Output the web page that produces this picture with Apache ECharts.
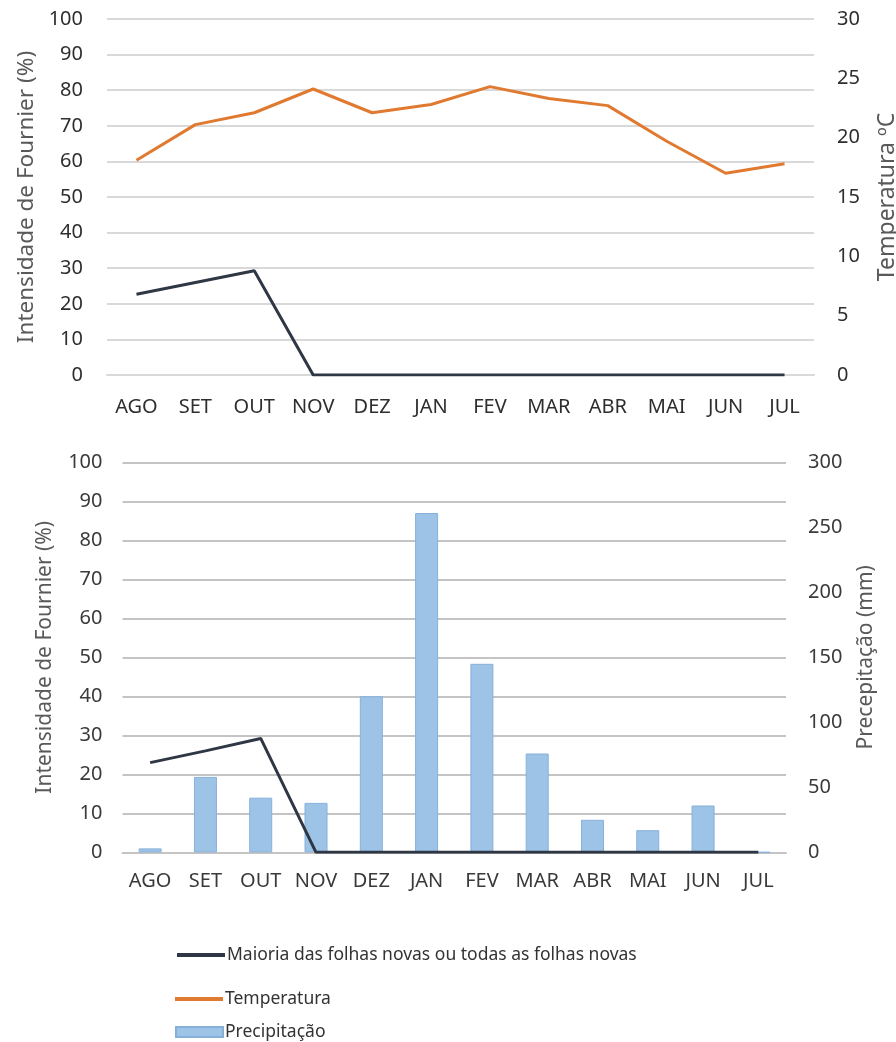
<!DOCTYPE html>
<html><head><meta charset="utf-8">
<script src="https://cdn.jsdelivr.net/npm/echarts@6/dist/echarts.min.js"></script>
<style>html,body{margin:0;padding:0;background:#fff}#c{width:896px;height:1042px}</style>
</head><body><div id="c"></div>
<script>
const months = ['AGO','SET','OUT','NOV','DEZ','JAN','FEV','MAR','ABR','MAI','JUN','JUL'];
const folhasTop = [22.7, 26, 29.3, 0, 0, 0, 0, 0, 0, 0, 0, 0];
const temperatura = [18.1, 21.1, 22.1, 24.1, 22.1, 22.8, 24.3, 23.3, 22.7, 19.7, 17.0, 17.8];
const folhasBottom = [23.0, 26, 29.2, 0, 0, 0, 0, 0, 0, 0, 0, 0];
const precipitacao = [3, 58, 42, 38, 120, 261, 145, 76, 25, 17, 36, 0];
const leftTicks = [0, 100, 10];
const tempTicks = [0, 30, 5];
const precTicks = [0, 300, 50];

const NAME_F = 'Maioria das folhas novas ou todas as folhas novas';
const NAME_T = 'Temperatura';
const NAME_P = 'Precipitação';
const FONT = 'Noto Sans';
const labTop = {fontFamily: FONT, fontSize: 20, color: '#2e2e2e'};
const labBot = {fontFamily: FONT, fontSize: 20, color: '#3a3a3a'};
const legText = {fontFamily: FONT, fontSize: 17.5, color: '#333', padding: [0, 0, 0, -3]};

const chart = echarts.init(document.getElementById('c'));
chart.setOption({
  animation: false,
  backgroundColor: '#fff',
  grid: [
    {left: 107, right: 82, top: 19, height: 356, outerBoundsMode: 'none', containLabel: false},
    {left: 122.5, right: 110, top: 462.3, height: 390, outerBoundsMode: 'none', containLabel: false}
  ],
  xAxis: [
    {type: 'category', gridIndex: 0, data: months, boundaryGap: true,
     axisLine: {show: true, lineStyle: {color: '#d9d9d9', width: 2}}, axisTick: {show: false},
     axisLabel: Object.assign({margin: 22, interval: 0, hideOverlap: false}, labTop)},
    {type: 'category', gridIndex: 1, data: months, boundaryGap: true,
     axisLine: {show: true, lineStyle: {color: '#c4c4c4', width: 2}}, axisTick: {show: false},
     axisLabel: Object.assign({margin: 19, interval: 0, hideOverlap: false}, labBot)}
  ],
  yAxis: [
    {type: 'value', gridIndex: 0, min: leftTicks[0], max: leftTicks[1], interval: leftTicks[2], position: 'left',
     name: 'Intensidade de Fournier (%)', nameLocation: 'middle', nameGap: 65,
     nameTextStyle: {fontFamily: FONT, fontSize: 22.5, color: '#595959'},
     axisLine: {show: false}, axisTick: {show: false},
     splitLine: {lineStyle: {color: '#d9d9d9', width: 2}},
     axisLabel: Object.assign({margin: 24}, labTop)},
    {type: 'value', gridIndex: 0, min: tempTicks[0], max: tempTicks[1], interval: tempTicks[2], position: 'right',
     name: 'Temperatura ºC', nameLocation: 'middle', nameGap: 62,
     nameTextStyle: {fontFamily: FONT, fontSize: 23, color: '#595959'},
     axisLine: {show: false}, axisTick: {show: false}, splitLine: {show: false},
     axisLabel: Object.assign({margin: 23}, labTop)},
    {type: 'value', gridIndex: 1, min: leftTicks[0], max: leftTicks[1], interval: leftTicks[2], position: 'left',
     name: 'Intensidade de Fournier (%)', nameLocation: 'middle', nameGap: 67,
     nameTextStyle: {fontFamily: FONT, fontSize: 21, color: '#595959'},
     axisLine: {show: false}, axisTick: {show: false},
     splitLine: {lineStyle: {color: '#c4c4c4', width: 2}},
     axisLabel: Object.assign({margin: 20}, labBot)},
    {type: 'value', gridIndex: 1, min: precTicks[0], max: precTicks[1], interval: precTicks[2], position: 'right',
     name: 'Precepitação (mm)', nameLocation: 'middle', nameGap: 70,
     nameTextStyle: {fontFamily: FONT, fontSize: 21, color: '#595959'},
     axisLine: {show: false}, axisTick: {show: false}, splitLine: {show: false},
     axisLabel: Object.assign({margin: 22}, labBot)}
  ],
  legend: [
    {left: 177, top: 946, padding: 0, itemWidth: 48, itemHeight: 4, itemGap: 0,
     data: [{name: NAME_F, icon: 'rect'}], textStyle: legText},
    {left: 175, top: 990, padding: 0, itemWidth: 48, itemHeight: 4, itemGap: 0,
     data: [{name: NAME_T, icon: 'rect'}], textStyle: legText},
    {left: 175, top: 1023, padding: 0, itemWidth: 47, itemHeight: 10, itemGap: 0,
     data: [{name: NAME_P, icon: 'rect'}], textStyle: legText}
  ],
  series: [
    {name: NAME_F, type: 'line', xAxisIndex: 0, yAxisIndex: 0, data: folhasTop,
     symbol: 'none', lineStyle: {color: '#2f3745', width: 3}, itemStyle: {color: '#2f3745'}, z: 5},
    {name: NAME_T, type: 'line', xAxisIndex: 0, yAxisIndex: 1, data: temperatura,
     symbol: 'none', lineStyle: {color: '#e07a30', width: 3}, itemStyle: {color: '#e07a30'}, z: 4},
    {name: NAME_P, type: 'bar', xAxisIndex: 1, yAxisIndex: 3, data: precipitacao, barWidth: 23,
     itemStyle: {color: '#9dc3e6', borderColor: '#86b0da', borderWidth: 1}, z: 2},
    {name: NAME_F, type: 'line', xAxisIndex: 1, yAxisIndex: 2, data: folhasBottom,
     symbol: 'none', lineStyle: {color: '#2f3745', width: 3}, itemStyle: {color: '#2f3745'}, z: 5}
  ]
});
</script></body></html>
